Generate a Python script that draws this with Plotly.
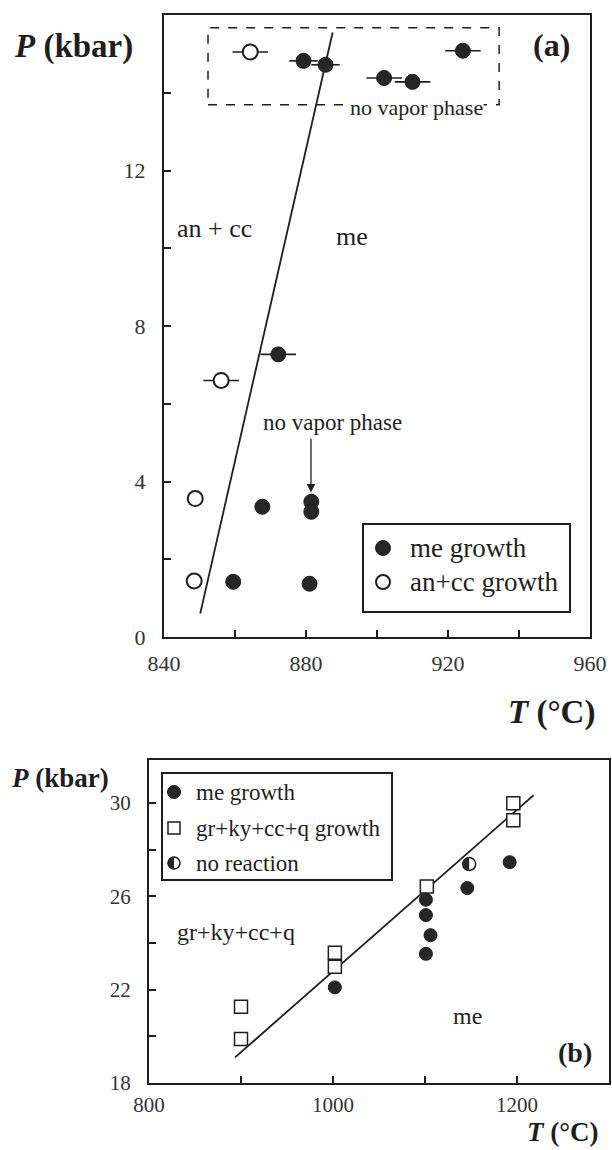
import plotly.graph_objects as go

W, H = 612, 1150
FONT = "Liberation Serif, 'Times New Roman', 'DejaVu Serif', serif"
INK = "#1e1e1e"

# ---------------- Panel (a) data ----------------
A_ME_T = [879.3, 885.5, 902.0, 910.0, 924.2, 872.2, 867.7, 881.5, 881.5, 859.5, 881.0]
A_ME_P = [14.82, 14.72, 14.38, 14.28, 15.08, 7.27, 3.35, 3.48, 3.22, 1.42, 1.37]
A_ME_ERR = [4, 4, 5, 5, 5, 5, 0, 0, 0, 0, 0]
A_AN_T = [864.3, 856.1, 848.8, 848.5]
A_AN_P = [15.05, 6.60, 3.56, 1.44]
A_AN_ERR = [5, 5, 0, 0]
A_LINE_T = [850.2, 887.5]
A_LINE_P = [0.6, 15.55]
A_BOX_T = [852.4, 934.4]
A_BOX_P = [13.69, 15.67]
A_ARROW_T = [881.4, 881.4]
A_ARROW_P = [5.14, 3.72]
A_XTICKS = [840, 880, 920, 960]
A_YTICKS = [0, 4, 8, 12]
A_LEGEND = ["me growth", "an+cc growth"]

# ---------------- Panel (b) data ----------------
B_ME_T = [1002, 1101, 1101, 1101, 1106, 1146, 1192]
B_ME_P = [22.10, 25.86, 25.20, 23.54, 24.34, 26.36, 27.47]
B_SQ_T = [900, 900, 1002, 1002, 1102, 1196, 1196]
B_SQ_P = [21.27, 19.89, 23.59, 22.99, 26.43, 30.00, 29.27]
B_NR_T = [1148]
B_NR_P = [27.39]
B_LINE_T = [893.5, 1218]
B_LINE_P = [19.1, 30.34]
B_XTICKS = [800, 1000, 1200]
B_YTICKS = [18, 22, 26, 30]
B_LEGEND = ["me growth", "gr+ky+cc+q growth", "no reaction"]


def px(x):
    return x / W


def py(y):
    return 1 - y / H


fig = go.Figure()

# ---- panel (a) traces
fig.add_trace(go.Scatter(x=A_LINE_T, y=A_LINE_P, mode="lines",
                         line=dict(color=INK, width=1.8), xaxis="x", yaxis="y"))
fig.add_trace(go.Scatter(x=A_AN_T, y=A_AN_P, mode="markers",
                         error_x=dict(type="data", array=A_AN_ERR, color=INK, thickness=1.6, width=0),
                         marker=dict(symbol="circle", size=15, color="white",
                                     line=dict(color=INK, width=2)),
                         xaxis="x", yaxis="y"))
fig.add_trace(go.Scatter(x=A_ME_T, y=A_ME_P, mode="markers",
                         error_x=dict(type="data", array=A_ME_ERR, color=INK, thickness=1.6, width=0),
                         marker=dict(symbol="circle", size=15, color="#262626",
                                     line=dict(color=INK, width=1)),
                         xaxis="x", yaxis="y"))

# ---- panel (b) traces
fig.add_trace(go.Scatter(x=B_LINE_T, y=B_LINE_P, mode="lines",
                         line=dict(color=INK, width=1.8), xaxis="x2", yaxis="y2"))
fig.add_trace(go.Scatter(x=B_SQ_T, y=B_SQ_P, mode="markers",
                         marker=dict(symbol="square", size=13, color="white",
                                     line=dict(color=INK, width=1.5)),
                         xaxis="x2", yaxis="y2"))
fig.add_trace(go.Scatter(x=B_ME_T, y=B_ME_P, mode="markers",
                         marker=dict(symbol="circle", size=13, color="#262626",
                                     line=dict(color=INK, width=1)),
                         xaxis="x2", yaxis="y2"))
fig.add_trace(go.Scatter(x=B_NR_T, y=B_NR_P, mode="markers",
                         marker=dict(symbol="circle", size=13, color="white",
                                     line=dict(color=INK, width=1.5)),
                         xaxis="x2", yaxis="y2"))


def half_path(r):
    k = 0.5523 * r
    return (f"M 0,{r} C {-k},{r} {-r},{k} {-r},0 "
            f"C {-r},{-k} {-k},{-r} 0,{-r} Z")


shapes = []
# dashed box (a)
shapes.append(dict(type="rect", xref="x", yref="y", x0=A_BOX_T[0], x1=A_BOX_T[1],
                   y0=A_BOX_P[0], y1=A_BOX_P[1], line=dict(color=INK, width=1.5, dash="dash"),
                   layer="below"))
# half fill for "no reaction" data points
for t, p in zip(B_NR_T, B_NR_P):
    shapes.append(dict(type="path", xref="x2", yref="y2", xsizemode="pixel", ysizemode="pixel",
                       xanchor=t, yanchor=p, path=half_path(6.2), fillcolor="#262626",
                       line=dict(width=0)))


def circle_shape(cx, cy, r, fill, lw):
    return dict(type="circle", xref="paper", yref="paper", xsizemode="pixel", ysizemode="pixel",
                xanchor=px(cx), yanchor=py(cy), x0=-r, x1=r, y0=-r, y1=r,
                fillcolor=fill, line=dict(color=INK, width=lw))


def square_shape(cx, cy, r, fill, lw):
    return dict(type="rect", xref="paper", yref="paper", xsizemode="pixel", ysizemode="pixel",
                xanchor=px(cx), yanchor=py(cy), x0=-r, x1=r, y0=-r, y1=r,
                fillcolor=fill, line=dict(color=INK, width=lw))


# legend (a)
shapes.append(dict(type="rect", xref="paper", yref="paper", x0=px(363), x1=px(570),
                   y0=py(612), y1=py(524), line=dict(color=INK, width=2), fillcolor="white"))
shapes.append(circle_shape(383, 548, 7.5, "#262626", 1))
shapes.append(circle_shape(383, 582, 7, "white", 2))
# legend (b)
shapes.append(dict(type="rect", xref="paper", yref="paper", x0=px(162), x1=px(392),
                   y0=py(880), y1=py(773), line=dict(color=INK, width=2), fillcolor="white"))
shapes.append(circle_shape(174, 792, 6.5, "#262626", 1))
shapes.append(square_shape(174, 828, 6, "white", 1.5))
shapes.append(circle_shape(174, 863, 6, "white", 1.5))
shapes.append(dict(type="path", xref="paper", yref="paper", xsizemode="pixel", ysizemode="pixel",
                   xanchor=px(174), yanchor=py(863), path=half_path(6.2), fillcolor="#262626",
                   line=dict(width=0)))

ann = []


def txt(text, x, y, size, xref="paper", yref="paper", xanchor="center", bg=None):
    d = dict(text=text, x=x, y=y, xref=xref, yref=yref, showarrow=False,
             xanchor=xanchor, yanchor="middle",
             font=dict(family=FONT, size=size, color=INK))
    if bg:
        d["bgcolor"] = bg
        d["borderpad"] = 0
    return d


# titles
ann.append(txt("<b><i>P</i> (kbar)</b>", px(73), py(47), 33))
ann.append(txt("<b><i>T</i> (°C)</b>", px(597), py(712), 33, xanchor="right"))
ann.append(txt("<b><i>P</i> (kbar)</b>", px(60), py(778), 27))
ann.append(txt("<b><i>T</i> (°C)</b>", px(601), py(1132), 27, xanchor="right"))
ann.append(txt("<b>(a)</b>", px(551), py(45), 32))
ann.append(txt("<b>(b)</b>", px(575), py(1052), 28))
# panel (a) labels
ann.append(txt("an + cc", 854.1, 10.52, 26, xref="x", yref="y"))
ann.append(txt("me", 893.0, 10.3, 26, xref="x", yref="y"))
ann.append(txt("no vapor phase", 911.0, 13.62, 22, xref="x", yref="y", bg="white"))
ann.append(txt("no vapor phase", 887.6, 5.53, 23, xref="x", yref="y"))
ann.append(dict(text="", x=A_ARROW_T[1], y=A_ARROW_P[1], ax=A_ARROW_T[0], ay=A_ARROW_P[0],
                xref="x", yref="y", axref="x", ayref="y", showarrow=True,
                arrowhead=2, arrowsize=1.3, arrowwidth=1.3, arrowcolor=INK))
# panel (b) labels
ann.append(txt("gr+ky+cc+q", 895, 24.48, 24, xref="x2", yref="y2"))
ann.append(txt("me", 1146, 20.87, 24, xref="x2", yref="y2"))
# legend texts
for lbl, yy in zip(A_LEGEND, [548, 582]):
    ann.append(txt(lbl, px(408), py(yy), 27, xanchor="left"))
for lbl, yy in zip(B_LEGEND, [792, 828, 863]):
    ann.append(txt(lbl, px(194), py(yy), 23, xanchor="left"))


def axis_style(tickvals, minor_tick0, minor_dtick, rng, domain, size, standoff, **kw):
    return dict(range=rng, domain=domain, tickmode="array", tickvals=tickvals,
                ticktext=[str(v) for v in tickvals], ticks="inside", ticklen=7,
                tickwidth=1.5, tickcolor=INK, showline=True, mirror=True, linewidth=2,
                linecolor=INK, showgrid=False, zeroline=False, fixedrange=True,
                tickfont=dict(family=FONT, size=size, color="#333"),
                ticklabelstandoff=standoff, automargin=False,
                minor=dict(tick0=minor_tick0, dtick=minor_dtick, ticks="inside", ticklen=7,
                           tickwidth=1.5, tickcolor=INK, showgrid=False),
                **kw)


fig.update_layout(
    width=W, height=H, margin=dict(l=0, r=0, t=0, b=0),
    paper_bgcolor="white", plot_bgcolor="white", showlegend=False,
    xaxis=axis_style(A_XTICKS, 840, 20, [840, 960], [px(164), px(590)], 22, 6, anchor="y"),
    yaxis=axis_style(A_YTICKS, 0, 2, [0, 16], [py(637), py(15)], 22, 12, anchor="x"),
    xaxis2=axis_style(B_XTICKS, 800, 100, [800, 1300], [px(149), px(609)], 21, 2, anchor="y2"),
    yaxis2=axis_style(B_YTICKS, 18, 2, [18, 31.85], [py(1083), py(760)], 21, 12, anchor="x2"),
    shapes=shapes, annotations=ann,
)

fig.write_html("out.html")
